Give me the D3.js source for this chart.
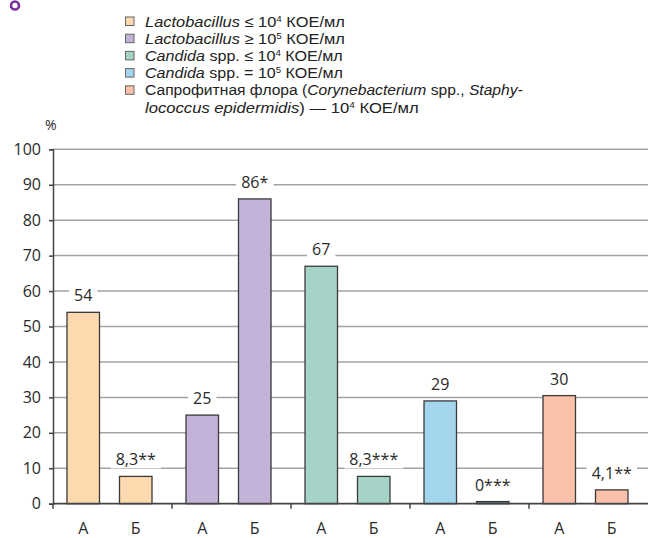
<!DOCTYPE html>
<html><head><meta charset="utf-8">
<script src="https://cdn.jsdelivr.net/npm/d3@7"></script>
<style>
html,body{margin:0;padding:0;background:#fff;}
svg{display:block;font-family:"Open Sans",sans-serif;}
</style></head>
<body>
<svg id="chart" width="648" height="538"></svg>
<script>
// ---- data ----
const groups = ["Lacto≤10^4", "Lacto≥10^5", "Candida≤10^4", "Candida=10^5", "Saprophytes"];
const subCategories = ["А", "Б"];
const valuesA = [54, 25, 67, 29, 30.5];
const valuesB = [7.7, 86, 7.7, 0.6, 3.9];
const labelsA = ["54", "25", "67", "29", "30"];
const labelsB = ["8,3**", "86*", "8,3***", "0***", "4,1**"];
const colors = ["#fdd9b0", "#c4b3d8", "#a6d3c7", "#a3d5ed", "#f9c1a9"];
const yTicks = [0, 10, 20, 30, 40, 50, 60, 70, 80, 90, 100];
const legendRows = [
  [["Lactobacillus", true], [" ≤ 10", false], ["4", false, "sup"], [" КОЕ/мл", false]],
  [["Lactobacillus", true], [" ≥ 10", false], ["5", false, "sup"], [" КОЕ/мл", false]],
  [["Candida", true], [" spp. ≤ 10", false], ["4", false, "sup"], [" КОЕ/мл", false]],
  [["Candida", true], [" spp. = 10", false], ["5", false, "sup"], [" КОЕ/мл", false]],
  [["Сапрофитная флора (", false], ["Corynebacterium", true], [" spp., ", false], ["Staphy-", true]],
  [["lococcus epidermidis", true], [")  — 10", false], ["4", false, "sup"], [" КОЕ/мл", false]]
];
const legendColorIdx = [0, 1, 2, 3, 4, null];
const legendRowWidths = [200, 200, 198, 198, 378, 274];

(function () {
const svg = d3.select("#chart");
const mLeft = 53, mRight = 648, mTop = 149.3, mBottom = 503.7;

const y = d3.scaleLinear().domain([0, 100]).range([mBottom, mTop]);
const xg = d3.scaleBand().domain(groups).range([mLeft, mRight]).padding(0);
const xs = d3.scaleBand().domain(subCategories).range([14, 99]).paddingInner(0.381).paddingOuter(0);

// purple circle mark
svg.append("circle").attr("cx", 15).attr("cy", 5.5).attr("r", 4)
  .attr("fill", "none").attr("stroke", "#7b2fa0").attr("stroke-width", 2.6);

// gridlines
svg.append("g").selectAll("line").data(yTicks.filter(d => d > 0)).join("line")
  .attr("x1", mLeft).attr("x2", mRight)
  .attr("y1", d => y(d)).attr("y2", d => y(d))
  .attr("stroke", "#a3a3a3").attr("stroke-width", 1.5);

// y axis
const yAxis = d3.axisLeft(y).tickValues(yTicks).tickSize(4).tickPadding(8).tickFormat(d3.format("d"));
const ya = svg.append("g").attr("transform", `translate(${mLeft},0)`).call(yAxis);
ya.select(".domain").attr("stroke", "#444").attr("stroke-width", 1.5);
ya.selectAll(".tick line").attr("stroke", "#444").attr("stroke-width", 1.5);
ya.selectAll(".tick text").attr("font-size", 16).attr("fill", "#2a2a2a")
  .attr("font-family", "'Open Sans',sans-serif");

svg.append("text").attr("x", 45).attr("y", 130).attr("font-size", 14)
  .attr("fill", "#2a2a2a").text("%");

// bars
const data = [];
groups.forEach((g, i) => {
  data.push({g, s: "А", v: valuesA[i], label: labelsA[i], c: colors[i]});
  data.push({g, s: "Б", v: valuesB[i], label: labelsB[i], c: colors[i]});
});

svg.append("g").selectAll("rect").data(data).join("rect")
  .attr("x", d => xg(d.g) + xs(d.s))
  .attr("width", xs.bandwidth())
  .attr("y", d => y(d.v))
  .attr("height", d => y(0) - y(d.v))
  .attr("fill", d => d.v < 1 ? "#5f7f8e" : d.c)
  .attr("stroke", "#3a3a3a").attr("stroke-width", 1.3);

// value labels with white background
const lab = svg.append("g");
data.forEach(d => {
  const cx = xg(d.g) + xs(d.s) + xs.bandwidth() / 2;
  const by = y(d.v) - 11;
  const gg = lab.append("g");
  const r = gg.append("rect").attr("fill", "#fff");
  const t = gg.append("text").attr("x", cx).attr("y", by).attr("text-anchor", "middle")
    .attr("font-size", 16).attr("fill", "#2a2a2a").text(d.label);
  const bb = t.node().getBBox();
  r.attr("x", bb.x - 5).attr("y", bb.y + 2).attr("width", bb.width + 10).attr("height", bb.height - 4);
});

// x axis
svg.append("line").attr("x1", mLeft).attr("x2", mRight).attr("y1", mBottom).attr("y2", mBottom)
  .attr("stroke", "#444").attr("stroke-width", 1.8);
svg.append("g").selectAll("line").data(groups).join("line")
  .attr("x1", d => xg(d)).attr("x2", d => xg(d))
  .attr("y1", mBottom).attr("y2", mBottom + 5)
  .attr("stroke", "#444").attr("stroke-width", 1.5);
svg.append("g").selectAll("text").data(data).join("text")
  .attr("x", d => xg(d.g) + xs(d.s) + xs.bandwidth() / 2)
  .attr("y", 534).attr("text-anchor", "middle")
  .attr("font-size", 16).attr("fill", "#2a2a2a").text(d => d.s);

// legend
const lg = svg.append("g");
legendRows.forEach((row, i) => {
  const baseY = 26.5 + i * 17.2;
  const ci = legendColorIdx[i];
  if (ci !== null) {
    lg.append("rect").attr("x", 125.5).attr("y", baseY - 9.5).attr("width", 8.5).attr("height", 8.5)
      .attr("fill", colors[ci]).attr("stroke", "#666").attr("stroke-width", 1);
  }
  const holder = lg.append("g");
  const t = holder.append("text").attr("x", 0).attr("y", 0).attr("font-size", 15)
    .attr("font-family", "'Liberation Sans',Arial,sans-serif").attr("fill", "#222");
  let raised = false;
  row.forEach(seg => {
    const sp = t.append("tspan").text(seg[0]);
    if (seg[1]) sp.attr("font-style", "italic");
    if (seg[2] === "sup") { sp.attr("font-size", 9).attr("dy", -5); raised = true; }
    else if (raised) { sp.attr("dy", 5); raised = false; }
  });
  const w = t.node().getComputedTextLength();
  const sx = legendRowWidths[i] / w;
  holder.attr("transform", `translate(145,${baseY}) scale(${sx},1)`);
});
})();
</script>
</body></html>
